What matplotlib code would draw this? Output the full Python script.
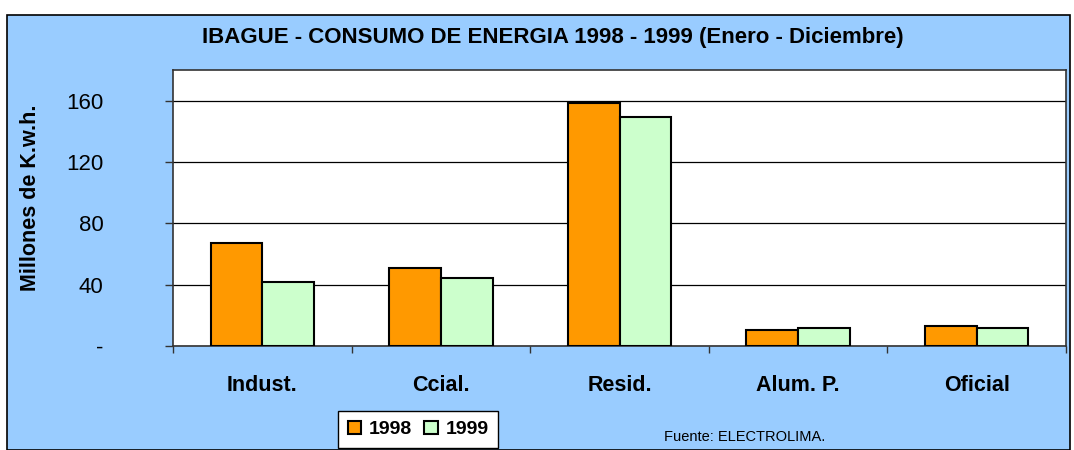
import matplotlib
matplotlib.use("Agg")
import matplotlib.pyplot as plt
import numpy as np
from matplotlib.patches import Rectangle

categories = ["Indust.", "Ccial.", "Resid.", "Alum. P.", "Oficial"]
serie_1998 = [67.5, 51, 158.7, 10.5, 13]
serie_1999 = [41.5, 44.5, 149.5, 11.5, 11.5]
series_labels = ["1998", "1999"]
yticks = [0, 40, 80, 120, 160]
ytick_labels = ["-", "40", "80", "120", "160"]

plt.rcParams['font.family'] = ['Liberation Sans', 'DejaVu Sans']

W, H = 1074, 450
fig = plt.figure(figsize=(W/100, H/100), dpi=100)
fig.patch.set_facecolor('white')

# outer chart area
bg = Rectangle((7/W, 0), (1070-7)/W, (H-15)/H, transform=fig.transFigure,
               facecolor='#99CCFF', edgecolor='black', linewidth=1.2, zorder=-5)
fig.patches.append(bg)

ax = fig.add_axes([173/W, (H-346)/H, (1066-173)/W, (346-70)/H])
ax.set_facecolor('white')

x = np.arange(len(categories))
bw = 0.29
ax.bar(x - bw/2, serie_1998, bw, color='#FF9900', edgecolor='black', linewidth=1.5,
       label=series_labels[0], zorder=3)
ax.bar(x + bw/2, serie_1999, bw, color='#CCFFCC', edgecolor='black', linewidth=1.5,
       label=series_labels[1], zorder=3)

ax.set_xlim(-0.5, len(categories) - 0.5)
ax.set_ylim(0, 180)
ax.set_yticks(yticks)
ax.set_yticklabels(ytick_labels, fontsize=16)
ax.yaxis.grid(True, color='black', linewidth=0.9, zorder=1)
ax.set_axisbelow(True)

ax.set_xticks(x)
ax.set_xticklabels(categories, fontsize=15.5, fontweight='bold')
ax.set_xticks(np.arange(-0.5, len(categories)), minor=True)
ax.tick_params(axis='x', which='major', length=0, pad=21)
ax.tick_params(axis='x', which='minor', length=5, direction='out', width=1, color='#333333')
ax.tick_params(axis='y', length=6, direction='out', width=1, pad=44, color='#333333')

for s in ['left', 'bottom', 'top', 'right']:
    ax.spines[s].set_color('#333333')
    ax.spines[s].set_linewidth(1.2)

ax.set_ylabel("Millones de K.w.h.", fontsize=15.5, fontweight='bold')
ax.yaxis.set_label_coords(-132/893, 0.536)

fig.text(553/W, 1 - 37/H, "IBAGUE - CONSUMO DE ENERGIA 1998 - 1999 (Enero - Diciembre)",
         ha='center', va='center', fontsize=16, fontweight='bold')

leg = fig.legend(loc='upper left', bbox_to_anchor=(338/W, 1 - 411/H), ncol=2,
                 prop={'size': 14, 'weight': 'bold'}, frameon=True, fancybox=False,
                 edgecolor='black', facecolor='white', framealpha=1,
                 handlelength=0.7, handleheight=0.7,
                 handletextpad=0.4, columnspacing=0.6, borderpad=0.5, borderaxespad=0)
leg.get_frame().set_linewidth(1.0)

fig.text(664/W, 1 - 437/H, "Fuente: ELECTROLIMA.", ha='left', va='center', fontsize=10.5)

fig.savefig("out.png", dpi=100)
